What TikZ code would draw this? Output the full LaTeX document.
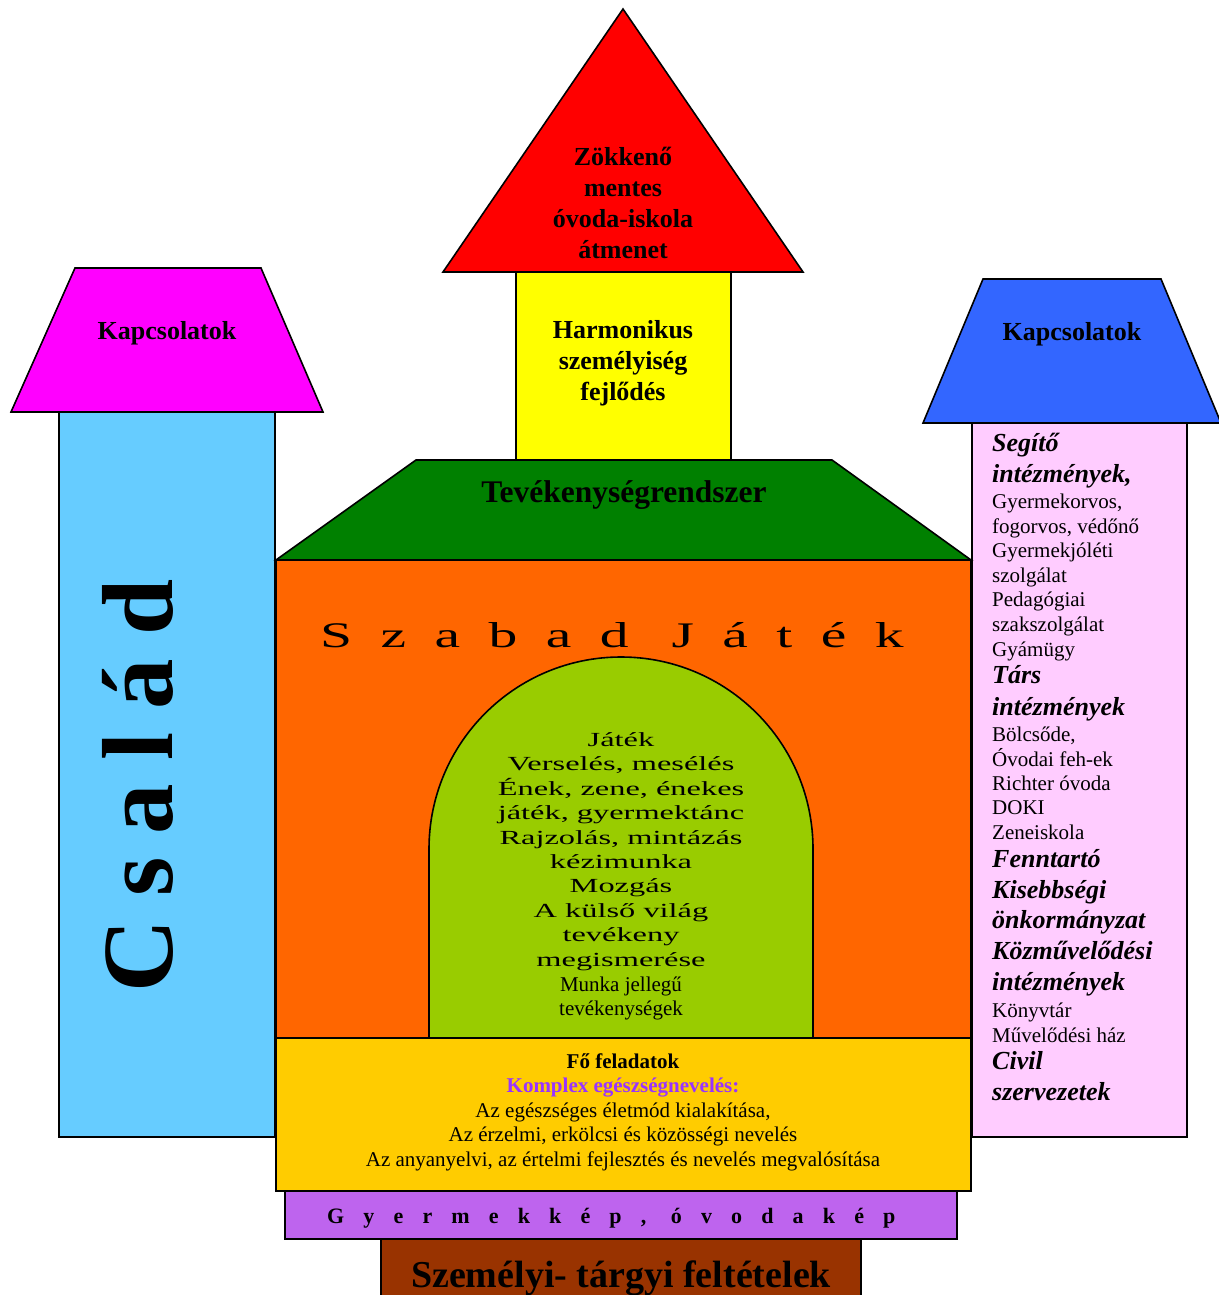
\documentclass[tikz,border=0pt]{standalone}
\usepackage{fontspec}
\setmainfont{Liberation Serif}
\newfontfamily\widefont[FakeStretch=1.62]{Liberation Serif}
\newfontfamily\gamefont[FakeStretch=1.6,LetterSpace=79]{Liberation Serif}
\newfontfamily\familyfont[LetterSpace=23]{Liberation Serif}
\newfontfamily\imagefont[LetterSpace=87]{Liberation Serif}

\definecolor{roofred}{RGB}{255,0,0}
\definecolor{towerYellow}{RGB}{255,255,0}
\definecolor{roofgreen}{RGB}{0,128,0}
\definecolor{wallorange}{RGB}{255,102,0}
\definecolor{archgreen}{RGB}{153,204,0}
\definecolor{leftblue}{RGB}{102,204,255}
\definecolor{leftroof}{RGB}{255,0,255}
\definecolor{rightroof}{RGB}{51,102,255}
\definecolor{rightpink}{RGB}{255,204,255}
\definecolor{baseyellow}{RGB}{255,204,0}
\definecolor{basepurple}{RGB}{190,100,238}
\definecolor{basebrown}{RGB}{153,51,0}
\definecolor{taskviolet}{RGB}{153,51,255}

\tikzset{
    block/.style={
           draw=black, line width=1.6pt, line join=miter
           },
    title/.style={
           inner sep=0pt, anchor=base, align=center,
           font=\fontsize{26}{30.8}\selectfont\bfseries
           },
    archtext/.style={
           inner sep=0pt, anchor=base, align=center,
           font=\widefont\fontsize{20}{24.4}\selectfont
           },
    plain/.style={
           inner sep=0pt, anchor=base, align=center,
           font=\fontsize{21}{24.5}\selectfont
           },
    listtext/.style={
           inner sep=0pt, anchor=base west, align=left,
           font=\fontsize{21}{24.6}\selectfont
           },
    listhead/.style={
           inner sep=0pt, anchor=base west, align=left,
           font=\fontsize{26}{30.6}\selectfont\bfseries\itshape
           }
}

\begin{document}
\begin{tikzpicture}[x=1pt, y=-1pt]
\useasboundingbox (0,0) rectangle (1218,1295);
% left tower
\draw[block, fill=leftblue] (59,412) rectangle (275,1137);
\draw[block, fill=leftroof] (11,412) -- (75,268) -- (261,268) -- (323,412) -- cycle;
% right tower
\draw[block, fill=rightpink] (972,423) rectangle (1187,1137);
\draw[block, fill=rightroof] (923,423) -- (983,279) -- (1161,279) -- (1221,423) -- cycle;
% middle tower
\draw[block, fill=towerYellow] (516,272) rectangle (731,460);
\draw[block, fill=roofred] (443,272) -- (623,9) -- (803,272) -- cycle;
% main building
\draw[block, fill=wallorange] (276,560) rectangle (971,1038);
\draw[block, fill=roofgreen] (276,560) -- (416,460) -- (832,460) -- (971,560) -- cycle;
\draw[block, fill=archgreen] (429,1038) -- (429,849) arc[start angle=180, end angle=360, radius=192] -- (813,1038) -- cycle;
% foundations
\draw[block, fill=basebrown] (381,1239) rectangle (861,1300);
\draw[block, fill=basepurple] (285,1191) rectangle (957,1239);
\draw[block, fill=baseyellow] (276,1038) rectangle (971,1191);

% texts (multi-line nodes sit on their last baseline)
\node[title] (transition) at (623,258) {Zökkenő\\mentes\\óvoda-iskola\\átmenet};
\node[title, font=\fontsize{26}{31}\selectfont\bfseries] (harmony) at (623,400) {Harmonikus\\személyiség\\fejlődés};
\node[title] (linksleft) at (167,339) {Kapcsolatok};
\node[title] (linksright) at (1072,340) {Kapcsolatok};
\node[title, font=\fontsize{31.5}{36}\selectfont\bfseries] (activity) at (624,502) {Tevékenységrendszer};
\node[inner sep=0pt, anchor=base west, font=\gamefont\fontsize{36}{40}\selectfont] (freeplay) at (320,647) {Szabad Játék};
\node[inner sep=0pt, anchor=base west, rotate=90, font=\familyfont\fontsize{101}{110}\selectfont\bfseries] (family) at (172,993) {Család};

% arch
\node[archtext] (areas) at (621,966) {Játék\\Verselés, mesélés\\Ének, zene, énekes\\játék, gyermektánc\\Rajzolás, mintázás\\kézimunka\\Mozgás\\A külső világ\\tevékeny\\megismerése};
\node[plain, font=\fontsize{21}{23.5}\selectfont] (work) at (621,1015) {Munka jellegű\\tevékenységek};

% right column
\node[listhead] (helpers) at (992,482) {Segítő\\intézmények,};
\node[listtext] (helperlist) at (992,656) {Gyermekorvos,\\fogorvos, védőnő\\Gyermekjóléti\\szolgálat\\Pedagógiai\\szakszolgálat\\Gyámügy};
\node[listhead, font=\fontsize{26}{32}\selectfont\bfseries\itshape] (partners) at (992,715) {Társ\\intézmények};
\node[listtext, font=\fontsize{21}{24.3}\selectfont] (partnerlist) at (992,839) {Bölcsőde,\\Óvodai feh-ek\\Richter óvoda\\DOKI\\Zeneiskola};
\node[listhead] (owners) at (992,990) {Fenntartó\\Kisebbségi\\önkormányzat\\Közművelődési\\intézmények};
\node[listtext, font=\fontsize{21}{25}\selectfont] (culturelist) at (992,1042) {Könyvtár\\Művelődési ház};
\node[listhead] (civil) at (992,1100) {Civil\\szervezetek};

% foundation texts
\node[plain] (tasks) at (623,1166) {\bfseries Fő feladatok\\\bfseries\color{taskviolet}Komplex egészségnevelés:\\Az egészséges életmód kialakítása,\\Az érzelmi, erkölcsi és közösségi nevelés\\Az anyanyelvi, az értelmi fejlesztés és nevelés megvalósítása};
\node[inner sep=0pt, anchor=base west, font=\imagefont\fontsize{22}{26}\selectfont\bfseries] (image) at (327,1223) {Gyermekkép, óvodakép};
\node[inner sep=0pt, anchor=base, font=\fontsize{38}{44}\selectfont\bfseries] (conditions) at (621,1287) {Személyi- tárgyi feltételek};
\end{tikzpicture}
\end{document}
